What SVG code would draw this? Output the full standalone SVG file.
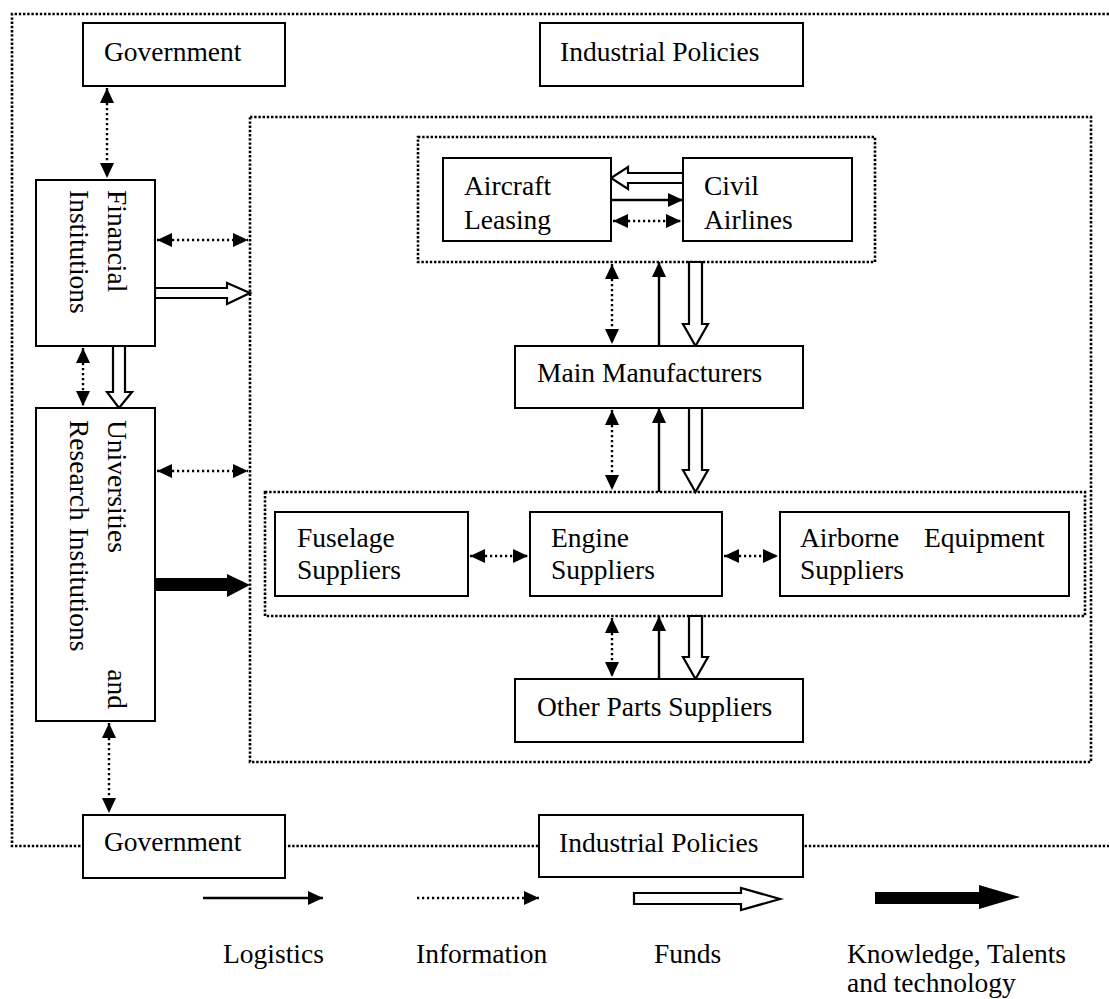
<svg xmlns="http://www.w3.org/2000/svg" width="1109" height="999" viewBox="0 0 1109 999">
<style>
text{font-family:"Liberation Serif","Times New Roman",serif;font-size:27.5px;fill:#000}
.box{fill:#fff;stroke:#000;stroke-width:2}
.cont{fill:none;stroke:#000;stroke-width:2.6;stroke-dasharray:2.4 1.8}
.sol{stroke:#000;stroke-width:2.4;fill:none}
.dot{stroke:#000;stroke-width:2.4;fill:none;stroke-dasharray:2.2 2.8}
.hol{fill:#fff;stroke:#000;stroke-width:2.2}
.thk{fill:#000;stroke:none}
</style>
<defs>
<marker id="ah" markerUnits="userSpaceOnUse" markerWidth="16" markerHeight="16" refX="15" refY="7" orient="auto-start-reverse">
<path d="M0,0 L15,7 L0,14 z" fill="#000"/>
</marker>
</defs>
<rect width="1109" height="999" fill="#fff"/>
<g id="containers">
<path class="cont" d="M1109,14 L12,14 L12,846 L1109,846"/>
<rect class="cont" x="250" y="117" width="841" height="645"/>
<rect class="cont" x="418" y="137" width="457" height="125"/>
<rect class="cont" x="265" y="492" width="820" height="124"/>
</g>
<g id="connectors">
<line class="dot" x1="107" y1="88" x2="107" y2="178" marker-start="url(#ah)" marker-end="url(#ah)"/>
<line class="dot" x1="157" y1="240" x2="248" y2="240" marker-start="url(#ah)" marker-end="url(#ah)"/>
<polygon class="hol" points="155,288 227,288 227,283 250,293 227,304 227,298 155,298"/>
<line class="dot" x1="83" y1="348" x2="83" y2="406" marker-start="url(#ah)" marker-end="url(#ah)"/>
<polygon class="hol" points="113,346 125,346 125,392 132,392 119,408 107,392 113,392"/>
<line class="dot" x1="157" y1="471" x2="248" y2="471" marker-start="url(#ah)" marker-end="url(#ah)"/>
<polygon class="thk" points="155,578 227,578 227,574 250,585 227,597 227,591 155,591"/>
<line class="dot" x1="109" y1="723" x2="109" y2="813" marker-start="url(#ah)" marker-end="url(#ah)"/>
<polygon class="hol" points="683,173 628,173 628,167 611,178 628,189 628,183 683,183"/>
<line class="sol" x1="611" y1="200" x2="683" y2="200" marker-end="url(#ah)"/>
<line class="dot" x1="613" y1="221" x2="681" y2="221" marker-start="url(#ah)" marker-end="url(#ah)"/>
<line class="dot" x1="612" y1="264" x2="612" y2="344" marker-start="url(#ah)" marker-end="url(#ah)"/>
<line class="sol" x1="659" y1="346" x2="659" y2="262" marker-end="url(#ah)"/>
<polygon class="hol" points="689,262 702,262 702,324 708,324 695.5,346 683,324 689,324"/>
<line class="dot" x1="612" y1="410" x2="612" y2="490" marker-start="url(#ah)" marker-end="url(#ah)"/>
<line class="sol" x1="659" y1="492" x2="659" y2="408" marker-end="url(#ah)"/>
<polygon class="hol" points="689,408 702,408 702,470 708,470 695.5,492 683,470 689,470"/>
<line class="dot" x1="470" y1="556" x2="528" y2="556" marker-start="url(#ah)" marker-end="url(#ah)"/>
<line class="dot" x1="724" y1="556" x2="778" y2="556" marker-start="url(#ah)" marker-end="url(#ah)"/>
<line class="dot" x1="612" y1="618" x2="612" y2="677" marker-start="url(#ah)" marker-end="url(#ah)"/>
<line class="sol" x1="659" y1="679" x2="659" y2="616" marker-end="url(#ah)"/>
<polygon class="hol" points="689,616 702,616 702,657 708,657 695.5,679 683,657 689,657"/>
</g>
<g id="government-top"><rect class="box" x="83" y="23" width="202" height="63"/><text x="104" y="61">Government</text></g>
<g id="policies-top"><rect class="box" x="540" y="23" width="263" height="63"/><text x="560" y="61">Industrial Policies</text></g>
<g id="financial"><rect class="box" x="36" y="180" width="119" height="166"/>
<text transform="translate(108,190) rotate(90)">Financial</text>
<text transform="translate(70,190) rotate(90)">Institutions</text></g>
<g id="universities"><rect class="box" x="36" y="408" width="119" height="313"/>
<text transform="translate(108,420) rotate(90)">Universities</text>
<text transform="translate(108,709) rotate(90)" text-anchor="end">and</text>
<text transform="translate(70,420) rotate(90)">Research Institutions</text></g>
<g id="leasing"><rect class="box" x="443" y="158" width="168" height="83"/><text x="464" y="195">Aircraft</text><text x="464" y="229">Leasing</text></g>
<g id="airlines"><rect class="box" x="683" y="158" width="169" height="83"/><text x="704" y="195">Civil</text><text x="704" y="229">Airlines</text></g>
<g id="main"><rect class="box" x="515" y="346" width="288" height="62"/><text x="537" y="382">Main Manufacturers</text></g>
<g id="fuselage"><rect class="box" x="275" y="512" width="193" height="84"/><text x="297" y="547">Fuselage</text><text x="297" y="579">Suppliers</text></g>
<g id="engine"><rect class="box" x="530" y="512" width="192" height="84"/><text x="551" y="547">Engine</text><text x="551" y="579">Suppliers</text></g>
<g id="airborne"><rect class="box" x="780" y="512" width="289" height="84"/><text x="800" y="547">Airborne</text><text x="924" y="547">Equipment</text><text x="800" y="579">Suppliers</text></g>
<g id="other"><rect class="box" x="515" y="679" width="288" height="63"/><text x="537" y="716">Other Parts Suppliers</text></g>
<g id="government-bottom"><rect class="box" x="83" y="815" width="202" height="63"/><text x="104" y="851">Government</text></g>
<g id="policies-bottom"><rect class="box" x="539" y="815" width="264" height="62"/><text x="559" y="852">Industrial Policies</text></g>
<g id="legend">
<line class="sol" x1="203" y1="898" x2="323" y2="898" marker-end="url(#ah)"/>
<line class="dot" x1="417" y1="898" x2="539" y2="898" marker-end="url(#ah)"/>
<polygon class="hol" points="634,893 741,893 741,888 780,899 741,910 741,904 634,904"/>
<polygon class="thk" points="875,892 979,892 979,885 1020,897 979,909 979,904 875,904"/>
<text x="223" y="963">Logistics</text>
<text x="416" y="963">Information</text>
<text x="654" y="963">Funds</text>
<text x="847" y="963">Knowledge, Talents</text>
<text x="847" y="992">and technology</text>
</g>
</svg>
